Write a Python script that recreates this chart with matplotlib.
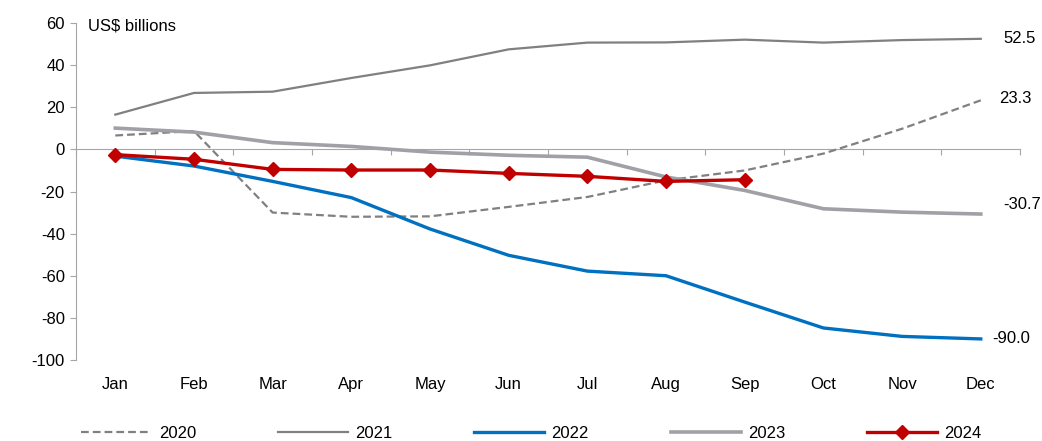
import matplotlib
matplotlib.use('Agg')
import matplotlib.pyplot as plt
from matplotlib.ticker import NullFormatter

# ---- Data -----------------------------------------------
months = ['Jan', 'Feb', 'Mar', 'Apr', 'May', 'Jun',
          'Jul', 'Aug', 'Sep', 'Oct', 'Nov', 'Dec']
y2020 = [6.6, 8.7, -30.0, -32.0, -31.8, -27.3, -22.6, -14.7, -10.0, -2.0, 9.8, 23.3]
y2021 = [16.5, 26.8, 27.4, 33.9, 39.9, 47.5, 50.7, 50.8, 52.1, 50.7, 51.9, 52.5]
y2022 = [-3.2, -7.9, -15.2, -22.9, -37.8, -50.3, -57.8, -60.0, -72.5, -84.8, -88.8, -90.0]
y2023 = [10.1, 8.2, 3.2, 1.4, -1.3, -2.8, -3.7, -13.1, -19.5, -28.2, -29.8, -30.7]
y2024 = [-2.5, -4.7, -9.5, -9.8, -9.8, -11.4, -12.8, -15.2, -14.4]
yticks = [-100, -80, -60, -40, -20, 0, 20, 40, 60]

# ---- Style ----------------------------------------------
plt.rcParams['font.family'] = ['Liberation Sans Narrow', 'Liberation Sans', 'DejaVu Sans']
plt.rcParams['font.size'] = 12
plt.rcParams['axes.unicode_minus'] = False
axis_grey = '#a6a6a6'

fig = plt.figure(figsize=(10.42, 4.41), dpi=100)
ax = fig.add_axes([0.0729, 0.1837, 0.9061, 0.7641])

# zero line with category-boundary ticks (drawn first, under the series)
ax.set_xlim(-0.5, len(months) - 0.5)
ax.set_ylim(-100, 60)
ymin, ymax = ax.get_ylim()
zero_ax = ax.secondary_xaxis((0 - ymin) / (ymax - ymin))
zero_ax.set_zorder(0.5)
zero_ax.set_xticks([i + 0.5 for i in range(-1, len(months))])
zero_ax.xaxis.set_major_formatter(NullFormatter())
zero_ax.xaxis.set_ticks_position('bottom')
zero_ax.tick_params(axis='x', length=4, direction='out', color=axis_grey)
zero_ax.spines['bottom'].set_visible(True)
zero_ax.spines['bottom'].set_color(axis_grey)
for side in ['top', 'left', 'right']:
    zero_ax.spines[side].set_visible(False)

x = list(range(len(months)))
ax.plot(x, y2020, color='#808080', lw=1.6, dashes=(3.5, 1.8), label='2020')
ax.plot(x, y2021, color='#808080', lw=1.6, label='2021')
ax.plot(x, y2022, color='#0070c0', lw=2.4, label='2022')
ax.plot(x, y2023, color='#a0a0a6', lw=2.6, label='2023')
ax.plot(x[:len(y2024)], y2024, color='#c00000', lw=2.4, marker='D',
        markersize=7.5, label='2024')

ax.set_yticks(yticks)
ax.set_xticks(x, months)
ax.tick_params(axis='x', length=0, pad=12)
ax.tick_params(axis='y', length=4, color=axis_grey, pad=4)

for side in ['top', 'right', 'bottom']:
    ax.spines[side].set_visible(False)
ax.spines['left'].set_color(axis_grey)

ax.text(0.013, 0.99, 'US$ billions', transform=ax.transAxes, ha='left', va='center',
        fontsize=12)

# end-of-year labels
end_labels = [(y2021[-1], 16, 0), (y2020[-1], 13, 1), (y2023[-1], 16, 7), (y2022[-1], 8, 0)]
for val, dx, dy in end_labels:
    ax.annotate(f'{val:.1f}', xy=(len(months) - 1, val), xytext=(dx, dy),
                textcoords='offset points', ha='left', va='center', fontsize=12)

fig.legend(loc='center', bbox_to_anchor=(0.51, 0.018), ncol=5, frameon=False,
           handlelength=4.2, handletextpad=0.45, columnspacing=4.9, fontsize=12)

fig.savefig('out.png', dpi=100)
